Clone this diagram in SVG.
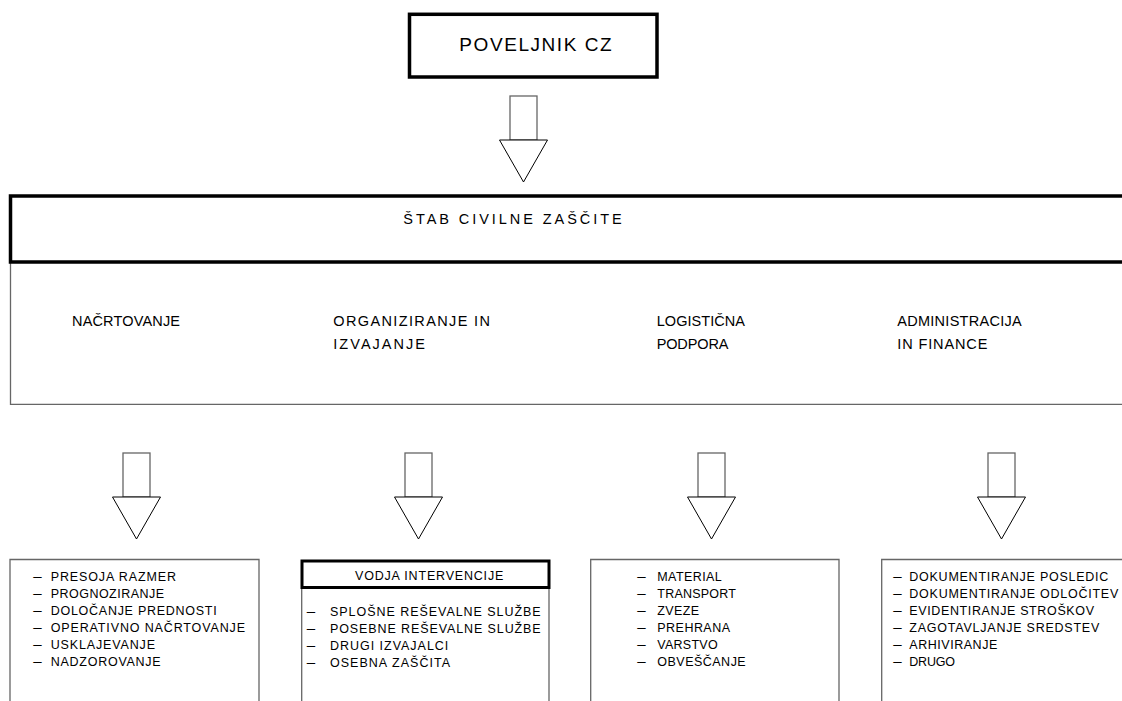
<svg xmlns="http://www.w3.org/2000/svg" width="1122" height="701" viewBox="0 0 1122 701">
<style>
text{font-family:"Liberation Sans","DejaVu Sans",Arial,sans-serif;fill:#000;}
.t18{font-size:19px;}
.t14{font-size:14.5px;}
.t11{font-size:12.5px;}
.thick{fill:none;stroke:#000;stroke-width:3.5;}
.thin{fill:none;stroke:#666;stroke-width:1.3;}
.ar{fill:#fff;stroke:#666;stroke-width:1.3;}
.tri{fill:#fff;stroke:#000;stroke-width:1;}
</style>
<rect width="1122" height="701" fill="#fff"/>

<g id="connectors">
  <g id="arrow-top">
    <rect class="ar" x="510" y="96" width="27" height="44"/>
    <polygon class="tri" points="499.5,140 547.5,140 523.5,182"/>
  </g>
  <g id="arrow-1">
    <rect class="ar" x="123" y="453" width="27" height="44"/>
    <polygon class="tri" points="112.5,497 160.5,497 136.5,539"/>
  </g>
  <g id="arrow-2">
    <rect class="ar" x="405" y="453" width="27" height="44"/>
    <polygon class="tri" points="394.5,497 442.5,497 418.5,539"/>
  </g>
  <g id="arrow-3">
    <rect class="ar" x="698" y="453" width="27" height="44"/>
    <polygon class="tri" points="687.5,497 735.5,497 711.5,539"/>
  </g>
  <g id="arrow-4">
    <rect class="ar" x="988" y="453" width="27" height="44"/>
    <polygon class="tri" points="977.5,497 1025.5,497 1001.5,539"/>
  </g>
</g>

<g id="poveljnik">
  <rect class="thick" x="409.5" y="14.3" width="247.5" height="62.7"/>
  <text class="t18" x="459.3" y="50.5" textLength="152.4" lengthAdjust="spacing">POVELJNIK CZ</text>
</g>

<g id="stab">
  <path class="thin" d="M10.5,262 V404.3 H1130"/>
  <rect class="thick" x="10.5" y="196" width="1130" height="66"/>
  <text class="t14" x="403.3" y="223.5" textLength="218.4" lengthAdjust="spacing">ŠTAB CIVILNE ZAŠČITE</text>
  <text class="t14" x="72" y="326" textLength="108" lengthAdjust="spacing">NAČRTOVANJE</text>
  <text class="t14" x="333.3" y="326" textLength="156.7" lengthAdjust="spacing">ORGANIZIRANJE IN</text>
  <text class="t14" x="333.3" y="348.5" textLength="91.7" lengthAdjust="spacing">IZVAJANJE</text>
  <text class="t14" x="656.7" y="326" textLength="88.3" lengthAdjust="spacing">LOGISTIČNA</text>
  <text class="t14" x="656.7" y="348.5" textLength="71.7" lengthAdjust="spacing">PODPORA</text>
  <text class="t14" x="897.3" y="326" textLength="124.3" lengthAdjust="spacing">ADMINISTRACIJA</text>
  <text class="t14" x="897.3" y="348.5" textLength="90" lengthAdjust="spacing">IN FINANCE</text>
</g>

<g id="box-nacrtovanje">
  <path class="thin" d="M10,705 V559.5 H259 V705"/>
  <g class="t11">
    <text x="33.3" y="581" textLength="8.4" lengthAdjust="spacingAndGlyphs">–</text><text x="50.7" y="581" textLength="125.3" lengthAdjust="spacing">PRESOJA RAZMER</text>
    <text x="33.3" y="598" textLength="8.4" lengthAdjust="spacingAndGlyphs">–</text><text x="50.7" y="598" textLength="113.3" lengthAdjust="spacing">PROGNOZIRANJE</text>
    <text x="33.3" y="615" textLength="8.4" lengthAdjust="spacingAndGlyphs">–</text><text x="50.7" y="615" textLength="166" lengthAdjust="spacing">DOLOČANJE PREDNOSTI</text>
    <text x="33.3" y="632" textLength="8.4" lengthAdjust="spacingAndGlyphs">–</text><text x="50.7" y="632" textLength="194.3" lengthAdjust="spacing">OPERATIVNO NAČRTOVANJE</text>
    <text x="33.3" y="649" textLength="8.4" lengthAdjust="spacingAndGlyphs">–</text><text x="50.7" y="649" textLength="104.3" lengthAdjust="spacing">USKLAJEVANJE</text>
    <text x="33.3" y="666" textLength="8.4" lengthAdjust="spacingAndGlyphs">–</text><text x="50.7" y="666" textLength="110" lengthAdjust="spacing">NADZOROVANJE</text>
  </g>
</g>

<g id="box-organiziranje">
  <path class="thin" d="M301.7,705 V587 M549,587 V705"/>
  <rect class="thick" x="302" y="561" width="247" height="26.5" fill="#fff" style="stroke-width:3"/>
  <g class="t11">
    <text x="355" y="580" textLength="148.3" lengthAdjust="spacing">VODJA INTERVENCIJE</text>
    <text x="306.7" y="616" textLength="8.4" lengthAdjust="spacingAndGlyphs">–</text><text x="330" y="616" textLength="210.7" lengthAdjust="spacing">SPLOŠNE REŠEVALNE SLUŽBE</text>
    <text x="306.7" y="633" textLength="8.4" lengthAdjust="spacingAndGlyphs">–</text><text x="330" y="633" textLength="210.7" lengthAdjust="spacing">POSEBNE REŠEVALNE SLUŽBE</text>
    <text x="306.7" y="650" textLength="8.4" lengthAdjust="spacingAndGlyphs">–</text><text x="330" y="650" textLength="118.3" lengthAdjust="spacing">DRUGI IZVAJALCI</text>
    <text x="306.7" y="667" textLength="8.4" lengthAdjust="spacingAndGlyphs">–</text><text x="330" y="667" textLength="120" lengthAdjust="spacing">OSEBNA ZAŠČITA</text>
  </g>
</g>

<g id="box-logistika">
  <path class="thin" d="M590.7,705 V559.5 H839 V705"/>
  <g class="t11">
    <text x="637.3" y="581" textLength="8.4" lengthAdjust="spacingAndGlyphs">–</text><text x="657.3" y="581" textLength="64.4" lengthAdjust="spacing">MATERIAL</text>
    <text x="637.3" y="598" textLength="8.4" lengthAdjust="spacingAndGlyphs">–</text><text x="657.3" y="598" textLength="78.7" lengthAdjust="spacing">TRANSPORT</text>
    <text x="637.3" y="615" textLength="8.4" lengthAdjust="spacingAndGlyphs">–</text><text x="657.3" y="615" textLength="41.7" lengthAdjust="spacing">ZVEZE</text>
    <text x="637.3" y="632" textLength="8.4" lengthAdjust="spacingAndGlyphs">–</text><text x="657.3" y="632" textLength="72.7" lengthAdjust="spacing">PREHRANA</text>
    <text x="637.3" y="649" textLength="8.4" lengthAdjust="spacingAndGlyphs">–</text><text x="657.3" y="649" textLength="60.4" lengthAdjust="spacing">VARSTVO</text>
    <text x="637.3" y="666" textLength="8.4" lengthAdjust="spacingAndGlyphs">–</text><text x="657.3" y="666" textLength="88.4" lengthAdjust="spacing">OBVEŠČANJE</text>
  </g>
</g>

<g id="box-administracija">
  <path class="thin" d="M881.7,705 V559.5 H1130"/>
  <g class="t11">
    <text x="893.3" y="581" textLength="8.4" lengthAdjust="spacingAndGlyphs">–</text><text x="909.3" y="581" textLength="199" lengthAdjust="spacing">DOKUMENTIRANJE POSLEDIC</text>
    <text x="893.3" y="598" textLength="8.4" lengthAdjust="spacingAndGlyphs">–</text><text x="909.3" y="598" textLength="209" lengthAdjust="spacing">DOKUMENTIRANJE ODLOČITEV</text>
    <text x="893.3" y="615" textLength="8.4" lengthAdjust="spacingAndGlyphs">–</text><text x="909.3" y="615" textLength="184.7" lengthAdjust="spacing">EVIDENTIRANJE STROŠKOV</text>
    <text x="893.3" y="632" textLength="8.4" lengthAdjust="spacingAndGlyphs">–</text><text x="909.3" y="632" textLength="190" lengthAdjust="spacing">ZAGOTAVLJANJE SREDSTEV</text>
    <text x="893.3" y="649" textLength="8.4" lengthAdjust="spacingAndGlyphs">–</text><text x="909.3" y="649" textLength="88" lengthAdjust="spacing">ARHIVIRANJE</text>
    <text x="893.3" y="666" textLength="8.4" lengthAdjust="spacingAndGlyphs">–</text><text x="909.3" y="666" textLength="45.7" lengthAdjust="spacing">DRUGO</text>
  </g>
</g>
</svg>
